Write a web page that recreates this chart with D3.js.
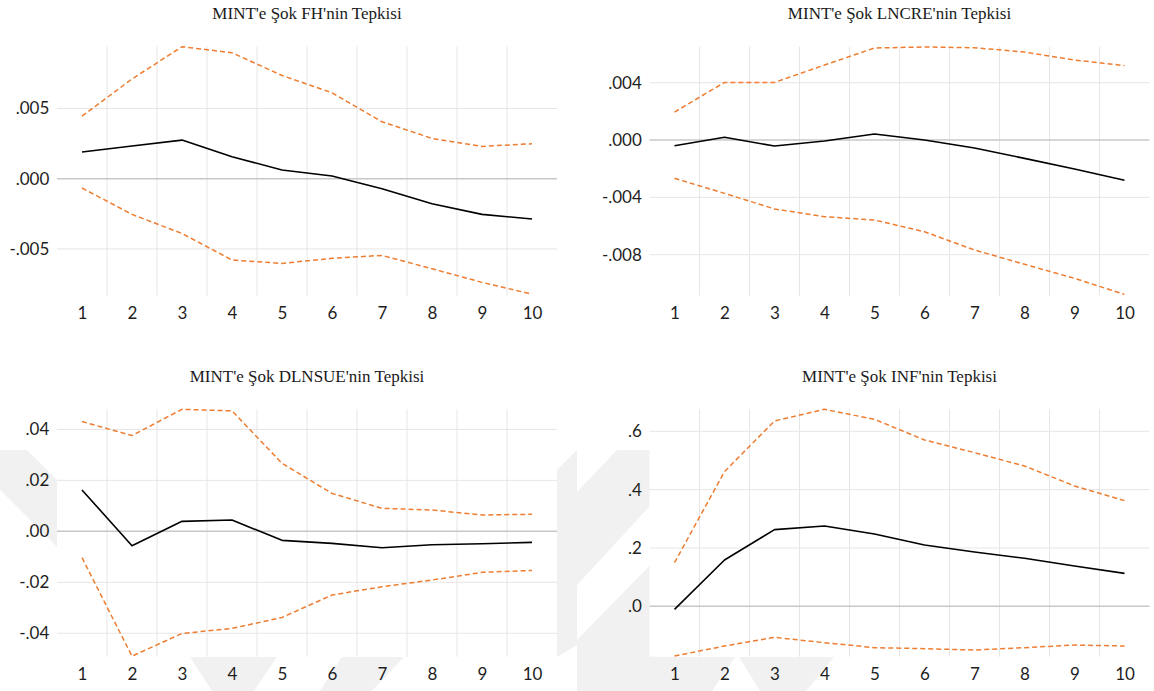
<!DOCTYPE html>
<html>
<head>
<meta charset="utf-8">
<script src="https://cdn.jsdelivr.net/npm/d3@7"></script>
<style>
  body { margin: 0; background: #ffffff; }
  svg { display: block; }
</style>
</head>
<body>
<svg id="chart" width="1154" height="691"></svg>
<script>
// Impulse response horizon
const periods = [1, 2, 3, 4, 5, 6, 7, 8, 9, 10];

// Panel titles
const titles = [
  "MINT'e Şok FH'nin Tepkisi",
  "MINT'e Şok LNCRE'nin Tepkisi",
  "MINT'e Şok DLNSUE'nin Tepkisi",
  "MINT'e Şok INF'nin Tepkisi"
];

// FH response with confidence band
const fhResp  = [0.0019, 0.00233, 0.00275, 0.00157, 0.00062, 0.00019, -0.00071, -0.00178, -0.00254, -0.00287];
const fhUpper = [0.00446, 0.0071, 0.0094, 0.00897, 0.00735, 0.00612, 0.00406, 0.00287, 0.0023, 0.00249];
const fhLower = [-0.00066, -0.00254, -0.0039, -0.00579, -0.00603, -0.00567, -0.00546, -0.00641, -0.00738, -0.00822];
const fhDomain = [-0.00833, 0.0094];
const fhTicks = [0.005, 0, -0.005];
const fhTickLabels = [".005", ".000", "-.005"];

// LNCRE response with confidence band
const lncreResp  = [-0.0004, 0.00019, -0.00042, -0.00007, 0.00042, 0.0, -0.00056, -0.00128, -0.00202, -0.00281];
const lncreUpper = [0.00195, 0.00402, 0.00402, 0.00523, 0.00642, 0.00649, 0.00644, 0.00614, 0.00558, 0.00519];
const lncreLower = [-0.00267, -0.00372, -0.00481, -0.00535, -0.00558, -0.0064, -0.00767, -0.00867, -0.00965, -0.01077];
const lncreDomain = [-0.01086, 0.00651];
const lncreTicks = [0.004, 0, -0.004, -0.008];
const lncreTickLabels = [".004", ".000", "-.004", "-.008"];

// DLNSUE response with confidence band
const dlnsueResp  = [0.01624, -0.00563, 0.00393, 0.00445, -0.00354, -0.00471, -0.00642, -0.00524, -0.00484, -0.00432];
const dlnsueUpper = [0.0431, 0.0376, 0.0479, 0.0473, 0.0267, 0.0149, 0.00903, 0.00838, 0.00642, 0.00668];
const dlnsueLower = [-0.01034, -0.049, -0.04007, -0.0381, -0.0338, -0.025, -0.02173, -0.01912, -0.0161, -0.01532];
const dlnsueDomain = [-0.0492, 0.0479];
const dlnsueTicks = [0.04, 0.02, 0, -0.02, -0.04];
const dlnsueTickLabels = [".04", ".02", ".00", "-.02", "-.04"];

// INF response with confidence band
const infResp  = [-0.0103, 0.1589, 0.2629, 0.2754, 0.248, 0.2103, 0.1863, 0.1646, 0.1383, 0.1131];
const infUpper = [0.1497, 0.4617, 0.6354, 0.6754, 0.641, 0.5703, 0.5269, 0.4811, 0.4126, 0.3623];
const infLower = [-0.1703, -0.136, -0.1063, -0.1246, -0.1417, -0.1451, -0.1497, -0.1417, -0.1326, -0.136];
const infDomain = [-0.1726, 0.6754];
const infTicks = [0.6, 0.4, 0.2, 0];
const infTickLabels = [".6", ".4", ".2", ".0"];

const svg = d3.select("#chart");
svg.append("rect").attr("width", 1154).attr("height", 691).attr("fill", "#ffffff");

// Faint background emblem showing around the lower plots
const emblemShapes = [
  [[0, 450], [27, 450], [80, 503], [80, 570], [0, 490]],
  [[190, 657], [277, 657], [254, 691], [212, 691]],
  [[342, 657], [404, 657], [372, 691], [320, 691]],
  [[557, 470], [577, 450], [577, 645], [557, 657]],
  [[617, 450], [660, 450], [660, 495], [577, 585], [577, 492]],
  [[660, 555], [660, 691], [577, 691], [577, 640]],
  [[650, 657], [735, 657], [712, 691], [660, 691]],
  [[739, 657], [834, 657], [806, 691], [760, 691]]
];
svg.append("g")
  .selectAll("path")
  .data(emblemShapes)
  .join("path")
  .attr("d", d => d3.line()(d) + "Z")
  .attr("fill", "#f1f1f1");

// Plot frames for the 2x2 grid
const frames = [
  { left: 57,    right: 557,    top: 46.7,  bottom: 295.7 },
  { left: 649.5, right: 1149.5, top: 46.7,  bottom: 295.7 },
  { left: 57,    right: 557,    top: 409.3, bottom: 656.7 },
  { left: 649.5, right: 1149.5, top: 409.3, bottom: 656.7 }
];

const panels = [
  { title: titles[0], resp: fhResp, hi: fhUpper, lo: fhLower, domain: fhDomain, ticks: fhTicks, labels: fhTickLabels },
  { title: titles[1], resp: lncreResp, hi: lncreUpper, lo: lncreLower, domain: lncreDomain, ticks: lncreTicks, labels: lncreTickLabels },
  { title: titles[2], resp: dlnsueResp, hi: dlnsueUpper, lo: dlnsueLower, domain: dlnsueDomain, ticks: dlnsueTicks, labels: dlnsueTickLabels },
  { title: titles[3], resp: infResp, hi: infUpper, lo: infLower, domain: infDomain, ticks: infTicks, labels: infTickLabels }
];

const LABEL_FONT = "Lato, 'Open Sans', sans-serif";
const TITLE_FONT = "'Liberation Serif', 'Times New Roman', serif";

panels.forEach((p, k) => {
  const f = frames[k];
  const g = svg.append("g");

  const x = d3.scalePoint().domain(periods).range([f.left, f.right]).padding(0.5);
  const y = d3.scaleLinear().domain(p.domain).range([f.bottom, f.top]);

  // plot background
  g.append("rect")
    .attr("x", f.left).attr("y", f.top)
    .attr("width", f.right - f.left).attr("height", f.bottom - f.top)
    .attr("fill", "#ffffff");

  // vertical gridlines between periods
  g.selectAll("line.vgrid")
    .data(periods.slice(1))
    .join("line")
    .attr("class", "vgrid")
    .attr("x1", d => x(d) - x.step() / 2)
    .attr("x2", d => x(d) - x.step() / 2)
    .attr("y1", f.top).attr("y2", f.bottom)
    .attr("stroke", "#e6e6e6").attr("stroke-width", 1);

  // horizontal gridlines
  g.selectAll("line.hgrid")
    .data(p.ticks.filter(t => t !== 0))
    .join("line")
    .attr("class", "hgrid")
    .attr("x1", f.left).attr("x2", f.right)
    .attr("y1", d => y(d)).attr("y2", d => y(d))
    .attr("stroke", "#e6e6e6").attr("stroke-width", 1);

  // zero line
  g.append("line")
    .attr("x1", f.left).attr("x2", f.right)
    .attr("y1", y(0)).attr("y2", y(0))
    .attr("stroke", "#c8c8c8").attr("stroke-width", 1.5);

  // y axis labels
  const yAxis = g.append("g")
    .attr("transform", `translate(${f.left},0)`)
    .call(d3.axisLeft(y).tickValues(p.ticks).tickFormat((d, i) => p.labels[i]).tickSize(0).tickPadding(7.7));
  yAxis.select(".domain").remove();
  yAxis.selectAll("text")
    .attr("font-family", LABEL_FONT).attr("font-size", 17).attr("fill", "#1e1e1e");

  // x axis labels
  const xAxis = g.append("g")
    .attr("transform", `translate(0,${f.bottom})`)
    .call(d3.axisBottom(x).tickSize(0).tickPadding(11));
  xAxis.select(".domain").remove();
  xAxis.selectAll("text")
    .attr("font-family", LABEL_FONT).attr("font-size", 17).attr("fill", "#1e1e1e");

  const line = d3.line().x((d, i) => x(periods[i])).y(d => y(d));

  // confidence bands
  [p.hi, p.lo].forEach(band => {
    g.append("path")
      .attr("d", line(band))
      .attr("fill", "none")
      .attr("stroke", "#ED7D31")
      .attr("stroke-width", 1.5)
      .attr("stroke-dasharray", "5,3");
  });

  // point response
  g.append("path")
    .attr("d", line(p.resp))
    .attr("fill", "none")
    .attr("stroke", "#000000")
    .attr("stroke-width", 1.6)
    .attr("stroke-linejoin", "round");

  // title
  g.append("text")
    .attr("x", (f.left + f.right) / 2)
    .attr("y", f.top - 27.7)
    .attr("text-anchor", "middle")
    .attr("font-family", TITLE_FONT)
    .attr("font-size", 17)
    .attr("fill", "#1a1a1a")
    .text(p.title);
});
</script>
</body>
</html>
